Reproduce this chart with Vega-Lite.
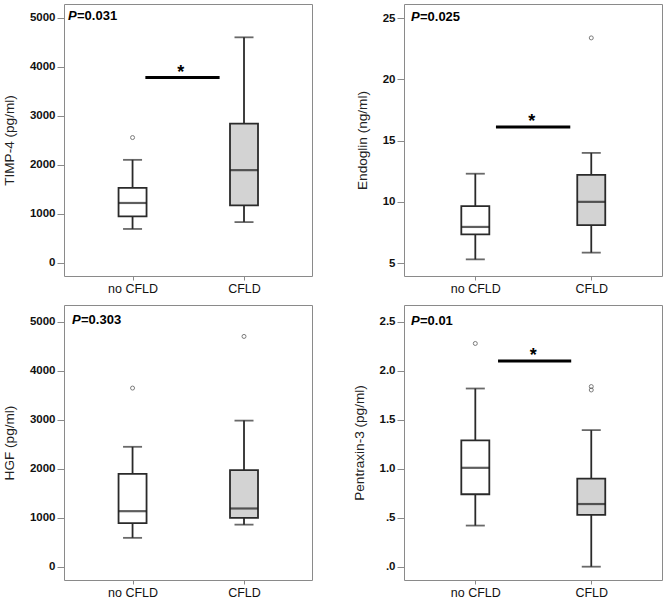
{
  "$schema": "https://vega.github.io/schema/vega-lite/v6.json",
  "padding": {"left": 1, "top": 3, "right": 5, "bottom": 5},
  "background": "white",
  "config": {
    "font": "Liberation Sans",
    "view": {"stroke": "#8a8a8a", "strokeWidth": 1},
    "axis": {"grid": false, "domain": false, "tickColor": "#8a8a8a", "tickWidth": 1, "labelColor": "#111", "titleColor": "#222"},
    "axisY": {"labelFontWeight": "bold", "labelFontSize": 11.5, "tickSize": 7, "labelPadding": 2, "titleFontWeight": "normal", "titleFontSize": 13.6, "titlePadding": 13, "format": "d"},
    "axisX": {"labelFontWeight": "normal", "labelFontSize": 12.5, "tickSize": 4, "labelPadding": 2}
  },
  "columns": 2,
  "spacing": {"row": 29, "column": 92},
  "bounds": "flush",
  "align": "each",
  "concat": [
    {
      "width": 248, "height": 272,
      "layer": [
        {
          "data": {"values": [
            {"grp": "no CFLD", "g": 1, "lo": 690, "q1": 945, "med": 1220, "q3": 1530, "hi": 2100},
            {"grp": "CFLD", "g": 2, "lo": 830, "q1": 1170, "med": 1890, "q3": 2840, "hi": 4600}
          ]},
          "layer": [
            {"mark": {"type": "rule", "color": "#2a2a2a", "strokeWidth": 1.8},
             "encoding": {
               "x": {"field": "g", "type": "quantitative", "scale": {"domain": [0.385, 2.61], "nice": false, "zero": false, "padding": 0}, "axis": {"values": [1, 2], "labelExpr": "datum.value == 1 ? 'no CFLD' : 'CFLD'", "title": null}},
               "y": {"field": "lo", "type": "quantitative", "scale": {"domain": [-270, 5280], "nice": false, "zero": false, "padding": 0}, "axis": {"values": [0, 1000, 2000, 3000, 4000, 5000], "title": "TIMP-4 (pg/ml)"}},
               "y2": {"field": "hi"}}},
            {"mark": {"type": "tick", "orient": "horizontal", "color": "#2a2a2a", "size": 19, "thickness": 1.8},
             "encoding": {"x": {"field": "g", "type": "quantitative"}, "y": {"field": "lo", "type": "quantitative"}}},
            {"mark": {"type": "tick", "orient": "horizontal", "color": "#2a2a2a", "size": 19, "thickness": 1.8},
             "encoding": {"x": {"field": "g", "type": "quantitative"}, "y": {"field": "hi", "type": "quantitative"}}},
            {"mark": {"type": "bar", "orient": "vertical", "size": 28, "stroke": "#2a2a2a", "strokeWidth": 1.8},
             "encoding": {"x": {"field": "g", "type": "quantitative"}, "y": {"field": "q1", "type": "quantitative"}, "y2": {"field": "q3"},
               "color": {"field": "grp", "type": "nominal", "scale": {"domain": ["no CFLD", "CFLD"], "range": ["#ffffff", "#d3d3d3"]}, "legend": null}}},
            {"mark": {"type": "tick", "orient": "horizontal", "color": "#1a1a1a", "size": 28, "thickness": 2.2},
             "encoding": {"x": {"field": "g", "type": "quantitative"}, "y": {"field": "med", "type": "quantitative"}}}
          ]
        },
        {
          "data": {"values": [{"g": 1, "v": 2555}]},
          "mark": {"type": "point", "shape": "circle", "size": 16, "filled": false, "color": "#444", "strokeWidth": 1},
          "encoding": {"x": {"field": "g", "type": "quantitative"}, "y": {"field": "v", "type": "quantitative"}}
        },
        {
          "data": {"values": [{"px": 0.421, "py": 5035, "pv": "=0.031", "sx1": 1.115, "sx2": 1.781, "sy": 3780, "ax": 1.433}]},
          "layer": [
            {"mark": {"type": "rule", "color": "#000", "strokeWidth": 3},
             "encoding": {"x": {"field": "sx1", "type": "quantitative"}, "x2": {"field": "sx2"}, "y": {"field": "sy", "type": "quantitative"}}},
            {"mark": {"type": "text", "text": "*", "fontSize": 18, "fontWeight": "bold", "baseline": "alphabetic", "align": "center", "color": "#000"},
             "encoding": {"x": {"field": "ax", "type": "quantitative"}, "y": {"field": "sy", "type": "quantitative"}}},
            {"mark": {"type": "text", "text": "P", "fontSize": 13, "fontWeight": "bold", "fontStyle": "italic", "baseline": "middle", "align": "left", "color": "#000"},
             "encoding": {"x": {"field": "px", "type": "quantitative"}, "y": {"field": "py", "type": "quantitative"}}},
            {"mark": {"type": "text", "fontSize": 13, "fontWeight": "bold", "baseline": "middle", "align": "left", "dx": 9, "color": "#000"},
             "encoding": {"x": {"field": "px", "type": "quantitative"}, "y": {"field": "py", "type": "quantitative"}, "text": {"field": "pv"}}}
          ]
        }
      ]
    },
    {
      "width": 258, "height": 272,
      "layer": [
        {
          "data": {"values": [
            {"grp": "no CFLD", "g": 1, "lo": 5.3, "q1": 7.35, "med": 7.95, "q3": 9.65, "hi": 12.3},
            {"grp": "CFLD", "g": 2, "lo": 5.85, "q1": 8.1, "med": 10.0, "q3": 12.2, "hi": 14.0}
          ]},
          "layer": [
            {"mark": {"type": "rule", "color": "#2a2a2a", "strokeWidth": 1.8},
             "encoding": {
               "x": {"field": "g", "type": "quantitative", "scale": {"domain": [0.385, 2.61], "nice": false, "zero": false, "padding": 0}, "axis": {"values": [1, 2], "labelExpr": "datum.value == 1 ? 'no CFLD' : 'CFLD'", "title": null}},
               "y": {"field": "lo", "type": "quantitative", "scale": {"domain": [3.94, 26.17], "nice": false, "zero": false, "padding": 0}, "axis": {"values": [5, 10, 15, 20, 25], "title": "Endoglin (ng/ml)"}},
               "y2": {"field": "hi"}}},
            {"mark": {"type": "tick", "orient": "horizontal", "color": "#2a2a2a", "size": 19, "thickness": 1.8},
             "encoding": {"x": {"field": "g", "type": "quantitative"}, "y": {"field": "lo", "type": "quantitative"}}},
            {"mark": {"type": "tick", "orient": "horizontal", "color": "#2a2a2a", "size": 19, "thickness": 1.8},
             "encoding": {"x": {"field": "g", "type": "quantitative"}, "y": {"field": "hi", "type": "quantitative"}}},
            {"mark": {"type": "bar", "orient": "vertical", "size": 28, "stroke": "#2a2a2a", "strokeWidth": 1.8},
             "encoding": {"x": {"field": "g", "type": "quantitative"}, "y": {"field": "q1", "type": "quantitative"}, "y2": {"field": "q3"},
               "color": {"field": "grp", "type": "nominal", "scale": {"domain": ["no CFLD", "CFLD"], "range": ["#ffffff", "#d3d3d3"]}, "legend": null}}},
            {"mark": {"type": "tick", "orient": "horizontal", "color": "#1a1a1a", "size": 28, "thickness": 2.2},
             "encoding": {"x": {"field": "g", "type": "quantitative"}, "y": {"field": "med", "type": "quantitative"}}}
          ]
        },
        {
          "data": {"values": [{"g": 2, "v": 23.4}]},
          "mark": {"type": "point", "shape": "circle", "size": 16, "filled": false, "color": "#444", "strokeWidth": 1},
          "encoding": {"x": {"field": "g", "type": "quantitative"}, "y": {"field": "v", "type": "quantitative"}}
        },
        {
          "data": {"values": [{"px": 0.445, "py": 25.1, "pv": "=0.025", "sx1": 1.178, "sx2": 1.819, "sy": 16.12, "ax": 1.487}]},
          "layer": [
            {"mark": {"type": "rule", "color": "#000", "strokeWidth": 3},
             "encoding": {"x": {"field": "sx1", "type": "quantitative"}, "x2": {"field": "sx2"}, "y": {"field": "sy", "type": "quantitative"}}},
            {"mark": {"type": "text", "text": "*", "fontSize": 18, "fontWeight": "bold", "baseline": "alphabetic", "align": "center", "color": "#000"},
             "encoding": {"x": {"field": "ax", "type": "quantitative"}, "y": {"field": "sy", "type": "quantitative"}}},
            {"mark": {"type": "text", "text": "P", "fontSize": 13, "fontWeight": "bold", "fontStyle": "italic", "baseline": "middle", "align": "left", "color": "#000"},
             "encoding": {"x": {"field": "px", "type": "quantitative"}, "y": {"field": "py", "type": "quantitative"}}},
            {"mark": {"type": "text", "fontSize": 13, "fontWeight": "bold", "baseline": "middle", "align": "left", "dx": 9, "color": "#000"},
             "encoding": {"x": {"field": "px", "type": "quantitative"}, "y": {"field": "py", "type": "quantitative"}, "text": {"field": "pv"}}}
          ]
        }
      ]
    },
    {
      "width": 248, "height": 275,
      "layer": [
        {
          "data": {"values": [
            {"grp": "no CFLD", "g": 1, "lo": 590, "q1": 890, "med": 1135, "q3": 1895, "hi": 2450},
            {"grp": "CFLD", "g": 2, "lo": 860, "q1": 1000, "med": 1190, "q3": 1975, "hi": 2985}
          ]},
          "layer": [
            {"mark": {"type": "rule", "color": "#2a2a2a", "strokeWidth": 1.8},
             "encoding": {
               "x": {"field": "g", "type": "quantitative", "scale": {"domain": [0.385, 2.61], "nice": false, "zero": false, "padding": 0}, "axis": {"values": [1, 2], "labelExpr": "datum.value == 1 ? 'no CFLD' : 'CFLD'", "title": null}},
               "y": {"field": "lo", "type": "quantitative", "scale": {"domain": [-271, 5347], "nice": false, "zero": false, "padding": 0}, "axis": {"values": [0, 1000, 2000, 3000, 4000, 5000], "title": "HGF (pg/ml)"}},
               "y2": {"field": "hi"}}},
            {"mark": {"type": "tick", "orient": "horizontal", "color": "#2a2a2a", "size": 19, "thickness": 1.8},
             "encoding": {"x": {"field": "g", "type": "quantitative"}, "y": {"field": "lo", "type": "quantitative"}}},
            {"mark": {"type": "tick", "orient": "horizontal", "color": "#2a2a2a", "size": 19, "thickness": 1.8},
             "encoding": {"x": {"field": "g", "type": "quantitative"}, "y": {"field": "hi", "type": "quantitative"}}},
            {"mark": {"type": "bar", "orient": "vertical", "size": 28, "stroke": "#2a2a2a", "strokeWidth": 1.8},
             "encoding": {"x": {"field": "g", "type": "quantitative"}, "y": {"field": "q1", "type": "quantitative"}, "y2": {"field": "q3"},
               "color": {"field": "grp", "type": "nominal", "scale": {"domain": ["no CFLD", "CFLD"], "range": ["#ffffff", "#d3d3d3"]}, "legend": null}}},
            {"mark": {"type": "tick", "orient": "horizontal", "color": "#1a1a1a", "size": 28, "thickness": 2.2},
             "encoding": {"x": {"field": "g", "type": "quantitative"}, "y": {"field": "med", "type": "quantitative"}}}
          ]
        },
        {
          "data": {"values": [{"g": 1, "v": 3650}, {"g": 2, "v": 4705}]},
          "mark": {"type": "point", "shape": "circle", "size": 16, "filled": false, "color": "#444", "strokeWidth": 1},
          "encoding": {"x": {"field": "g", "type": "quantitative"}, "y": {"field": "v", "type": "quantitative"}}
        },
        {
          "data": {"values": [{"px": 0.457, "py": 5035, "pv": "=0.303"}]},
          "layer": [
            {"mark": {"type": "text", "text": "P", "fontSize": 13, "fontWeight": "bold", "fontStyle": "italic", "baseline": "middle", "align": "left", "color": "#000"},
             "encoding": {"x": {"field": "px", "type": "quantitative"}, "y": {"field": "py", "type": "quantitative"}}},
            {"mark": {"type": "text", "fontSize": 13, "fontWeight": "bold", "baseline": "middle", "align": "left", "dx": 9, "color": "#000"},
             "encoding": {"x": {"field": "px", "type": "quantitative"}, "y": {"field": "py", "type": "quantitative"}, "text": {"field": "pv"}}}
          ]
        }
      ]
    },
    {
      "width": 258, "height": 275,
      "layer": [
        {
          "data": {"values": [
            {"grp": "no CFLD", "g": 1, "lo": 0.42, "q1": 0.74, "med": 1.01, "q3": 1.29, "hi": 1.82},
            {"grp": "CFLD", "g": 2, "lo": 0.0, "q1": 0.53, "med": 0.64, "q3": 0.9, "hi": 1.395}
          ]},
          "layer": [
            {"mark": {"type": "rule", "color": "#2a2a2a", "strokeWidth": 1.8},
             "encoding": {
               "x": {"field": "g", "type": "quantitative", "scale": {"domain": [0.385, 2.61], "nice": false, "zero": false, "padding": 0}, "axis": {"values": [1, 2], "labelExpr": "datum.value == 1 ? 'no CFLD' : 'CFLD'", "title": null}},
               "y": {"field": "lo", "type": "quantitative", "scale": {"domain": [-0.136, 2.673], "nice": false, "zero": false, "padding": 0}, "axis": {"values": [0, 0.5, 1, 1.5, 2, 2.5], "labelExpr": "datum.value == 0 ? '.0' : datum.value == 0.5 ? '.5' : format(datum.value, '.1f')", "title": "Pentraxin-3  (pg/ml)"}},
               "y2": {"field": "hi"}}},
            {"mark": {"type": "tick", "orient": "horizontal", "color": "#2a2a2a", "size": 19, "thickness": 1.8},
             "encoding": {"x": {"field": "g", "type": "quantitative"}, "y": {"field": "lo", "type": "quantitative"}}},
            {"mark": {"type": "tick", "orient": "horizontal", "color": "#2a2a2a", "size": 19, "thickness": 1.8},
             "encoding": {"x": {"field": "g", "type": "quantitative"}, "y": {"field": "hi", "type": "quantitative"}}},
            {"mark": {"type": "bar", "orient": "vertical", "size": 28, "stroke": "#2a2a2a", "strokeWidth": 1.8},
             "encoding": {"x": {"field": "g", "type": "quantitative"}, "y": {"field": "q1", "type": "quantitative"}, "y2": {"field": "q3"},
               "color": {"field": "grp", "type": "nominal", "scale": {"domain": ["no CFLD", "CFLD"], "range": ["#ffffff", "#d3d3d3"]}, "legend": null}}},
            {"mark": {"type": "tick", "orient": "horizontal", "color": "#1a1a1a", "size": 28, "thickness": 2.2},
             "encoding": {"x": {"field": "g", "type": "quantitative"}, "y": {"field": "med", "type": "quantitative"}}}
          ]
        },
        {
          "data": {"values": [{"g": 1, "v": 2.28}, {"g": 2, "v": 1.84}, {"g": 2, "v": 1.805}]},
          "mark": {"type": "point", "shape": "circle", "size": 16, "filled": false, "color": "#444", "strokeWidth": 1},
          "encoding": {"x": {"field": "g", "type": "quantitative"}, "y": {"field": "v", "type": "quantitative"}}
        },
        {
          "data": {"values": [{"px": 0.445, "py": 2.51, "pv": "=0.01", "sx1": 1.196, "sx2": 1.827, "sy": 2.1, "ax": 1.499}]},
          "layer": [
            {"mark": {"type": "rule", "color": "#000", "strokeWidth": 3},
             "encoding": {"x": {"field": "sx1", "type": "quantitative"}, "x2": {"field": "sx2"}, "y": {"field": "sy", "type": "quantitative"}}},
            {"mark": {"type": "text", "text": "*", "fontSize": 18, "fontWeight": "bold", "baseline": "alphabetic", "align": "center", "color": "#000"},
             "encoding": {"x": {"field": "ax", "type": "quantitative"}, "y": {"field": "sy", "type": "quantitative"}}},
            {"mark": {"type": "text", "text": "P", "fontSize": 13, "fontWeight": "bold", "fontStyle": "italic", "baseline": "middle", "align": "left", "color": "#000"},
             "encoding": {"x": {"field": "px", "type": "quantitative"}, "y": {"field": "py", "type": "quantitative"}}},
            {"mark": {"type": "text", "fontSize": 13, "fontWeight": "bold", "baseline": "middle", "align": "left", "dx": 9, "color": "#000"},
             "encoding": {"x": {"field": "px", "type": "quantitative"}, "y": {"field": "py", "type": "quantitative"}, "text": {"field": "pv"}}}
          ]
        }
      ]
    }
  ]
}
